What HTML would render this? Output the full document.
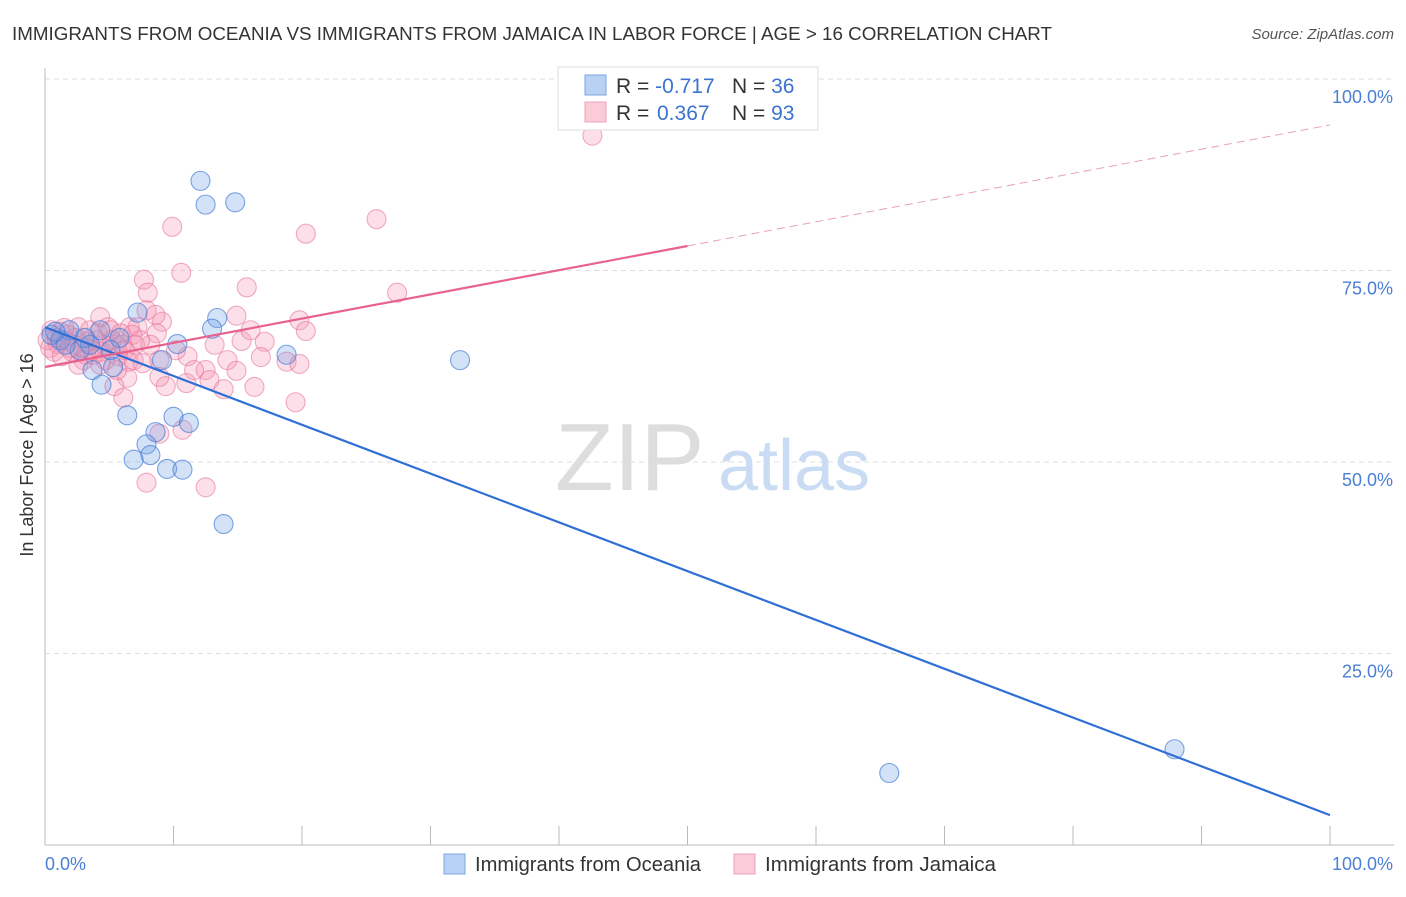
<!DOCTYPE html>
<html><head><meta charset="utf-8"><style>
body{margin:0;background:#fff;font-family:"Liberation Sans",sans-serif;}
svg text{font-family:"Liberation Sans",sans-serif;}
</style></head><body>
<svg id="chart" width="1406" height="892" xmlns="http://www.w3.org/2000/svg">
<text x="12" y="40" font-size="18" fill="#333" textLength="1040" lengthAdjust="spacingAndGlyphs">IMMIGRANTS FROM OCEANIA VS IMMIGRANTS FROM JAMAICA IN LABOR FORCE | AGE &gt; 16 CORRELATION CHART</text>
<text x="1394" y="39" font-size="15" fill="#555" text-anchor="end" font-style="italic">Source: ZipAtlas.com</text>
<text transform="translate(33,455) rotate(-90)" font-size="18" fill="#333" text-anchor="middle">In Labor Force | Age &gt; 16</text>
<g id="grid"></g>
<g><text x="555" y="490" font-size="96" fill="#ddd" font-family="Liberation Serif,serif">ZIP</text><text x="718" y="490" font-size="72" fill="#c9dcf3">atlas</text></g>
<g id="marks"></g>
<g>
<rect x="558" y="67" width="260" height="63" fill="#fff" stroke="#ddd"/>
<rect x="585" y="75" width="21" height="20" fill="#b8d2f5" stroke="#7ea6e0"/>
<rect x="585" y="102" width="21" height="20" fill="#fbcbd8" stroke="#eea0b8"/>
<text x="616" y="93" font-size="21" fill="#333">R = <tspan fill="#3a73d0">-0.717</tspan><tspan x="732">N = </tspan><tspan fill="#3a73d0">36</tspan></text>
<text x="616" y="120" font-size="21" fill="#333">R = <tspan fill="#3a73d0" x="657">0.367</tspan><tspan x="732">N = </tspan><tspan fill="#3a73d0">93</tspan></text>
</g>
<g>
<rect x="444" y="854" width="21" height="20" fill="#b8d2f5" stroke="#7ea6e0"/>
<text x="475" y="871" font-size="20" fill="#333" textLength="226" lengthAdjust="spacingAndGlyphs">Immigrants from Oceania</text>
<rect x="734" y="854" width="21" height="20" fill="#fbcbd8" stroke="#eea0b8"/>
<text x="765" y="871" font-size="20" fill="#333" textLength="231" lengthAdjust="spacingAndGlyphs">Immigrants from Jamaica</text>
</g>
</svg>
<script>
const yTicks=[25,50,75,100];
const yTickLabels=["25.0%","50.0%","75.0%","100.0%"];
const xTicks=[0,10,20,30,40,50,60,70,80,90,100];
const blueX=[12.1,12.5,14.8,13.4,13.0,7.2,10.3,9.1,18.8,32.3,6.4,10.0,11.2,8.6,7.9,8.2,6.9,9.5,10.7,13.9,65.7,87.9,3.7,4.4,5.3,5.8,4.3,1.9,0.5,1.2,2.7,3.5,5.1,1.6,3.1,0.8];
const blueY=[86.7,83.6,83.9,68.8,67.4,69.5,65.4,63.3,64.0,63.3,56.1,55.9,55.1,53.9,52.3,50.9,50.3,49.1,49.0,41.9,9.4,12.5,62.0,60.1,62.4,66.2,67.2,67.2,66.6,65.9,64.6,65.3,64.6,65.3,66.2,67.0];
const pinkX=[42.6,25.8,9.9,20.3,10.6,7.7,15.7,8.0,27.4,7.9,9.1,14.9,8.6,19.8,20.3,6.6,8.7,4.3,7.2,15.3,17.1,11.1,14.2,16.8,18.8,12.5,14.9,19.8,8.9,11.0,12.8,16.3,9.4,13.9,6.4,5.4,6.1,19.5,10.7,8.9,7.9,12.5,2.6,4.1,4.9,5.9,6.8,2.1,3.0,3.8,5.7,6.5,5.5,4.6,3.3,2.4,1.6,1.0,0.4,0.7,1.3,1.9,2.9,3.7,4.4,5.2,6.0,7.0,0.2,0.5,1.2,1.8,2.3,3.2,4.0,4.7,5.6,6.2,6.9,7.6,8.2,5.1,3.5,1.5,0.9,4.3,2.6,7.4,8.9,10.2,11.6,13.2,16.0];
const pinkY=[92.6,81.7,80.7,79.8,74.7,73.8,72.8,72.1,72.1,69.8,68.3,69.1,69.2,68.5,67.1,67.6,66.8,68.9,67.6,65.8,65.7,63.8,63.3,63.7,63.1,62.0,61.9,62.8,61.1,60.3,60.7,59.8,59.9,59.5,61.0,59.9,58.4,57.8,54.2,53.7,47.3,46.7,67.6,66.8,67.6,66.8,66.6,64.4,63.3,64.0,63.8,63.1,65.3,65.3,65.7,66.2,65.9,65.4,64.9,64.4,63.8,64.9,64.9,64.6,64.4,65.9,65.3,65.3,65.9,67.2,67.0,66.6,65.3,64.0,65.9,63.3,62.0,64.6,63.3,62.9,65.3,67.2,67.2,67.5,66.2,62.7,62.7,65.9,63.3,64.6,62.0,65.3,67.2];
const blueTrend=[67.6,3.9];
const pinkTrend=[62.4,94.0];
const NS="http://www.w3.org/2000/svg";
const X=v=>45+v*12.85, Y=v=>845-v*7.66;
function mk(tag,attrs,parent){const e=document.createElementNS(NS,tag);for(const k in attrs)e.setAttribute(k,attrs[k]);parent.appendChild(e);return e;}
const grid=document.getElementById('grid'), marks=document.getElementById('marks');
yTicks.forEach((t,i)=>{
 const l=mk('line',{x1:45,x2:1394,y1:Y(t),y2:Y(t),stroke:'#ddd','stroke-dasharray':'5,4'},grid);
 
 
 const tx=mk('text',{x:1393,y:Y(t)+24,'font-size':18,fill:'#4a7fd4','text-anchor':'end'},grid);
 tx.textContent=yTickLabels[i];
 
 
});
const ax=mk('line',{x1:45,x2:1394,y1:845,y2:845,stroke:'#bbb'},grid);


const ay=mk('line',{x1:45,x2:45,y1:68,y2:845,stroke:'#bbb'},grid);


xTicks.forEach(t=>{const l=mk('line',{x1:X(t),x2:X(t),y1:826,y2:845,stroke:'#bbb'},grid);
 
 });
const xl0=mk('text',{x:45,y:870,'font-size':18,fill:'#4a7fd4'},grid);xl0.textContent='0.0%';


const xl1=mk('text',{x:1393,y:870,'font-size':18,fill:'#4a7fd4','text-anchor':'end'},grid);xl1.textContent='100.0%';


pinkX.forEach((x,i)=>{const c=mk('circle',{cx:X(x),cy:Y(pinkY[i]),r:9.5,fill:'rgba(245,150,178,0.3)',stroke:'rgba(230,120,155,0.6)','stroke-width':1.1},marks);
 
 });
blueX.forEach((x,i)=>{const c=mk('circle',{cx:X(x),cy:Y(blueY[i]),r:9.5,fill:'rgba(110,160,230,0.3)',stroke:'rgba(70,125,215,0.7)','stroke-width':1.1},marks);
 
 });
const pAt=x=>pinkTrend[0]+(pinkTrend[1]-pinkTrend[0])*x/100;
const bl=mk('line',{x1:X(0),y1:Y(blueTrend[0]),x2:X(100),y2:Y(blueTrend[1]),stroke:'#2f6fd6','stroke-width':2.2},marks);


const pl=mk('line',{x1:X(0),y1:Y(pAt(0)),x2:X(50),y2:Y(pAt(50)),stroke:'#e8628f','stroke-width':2.2},marks);


const pd=mk('line',{x1:X(50),y1:Y(pAt(50)),x2:X(100),y2:Y(pAt(100)),stroke:'#e8a0b8','stroke-width':1,'stroke-dasharray':'8,5'},marks);


</script>
</body></html>
